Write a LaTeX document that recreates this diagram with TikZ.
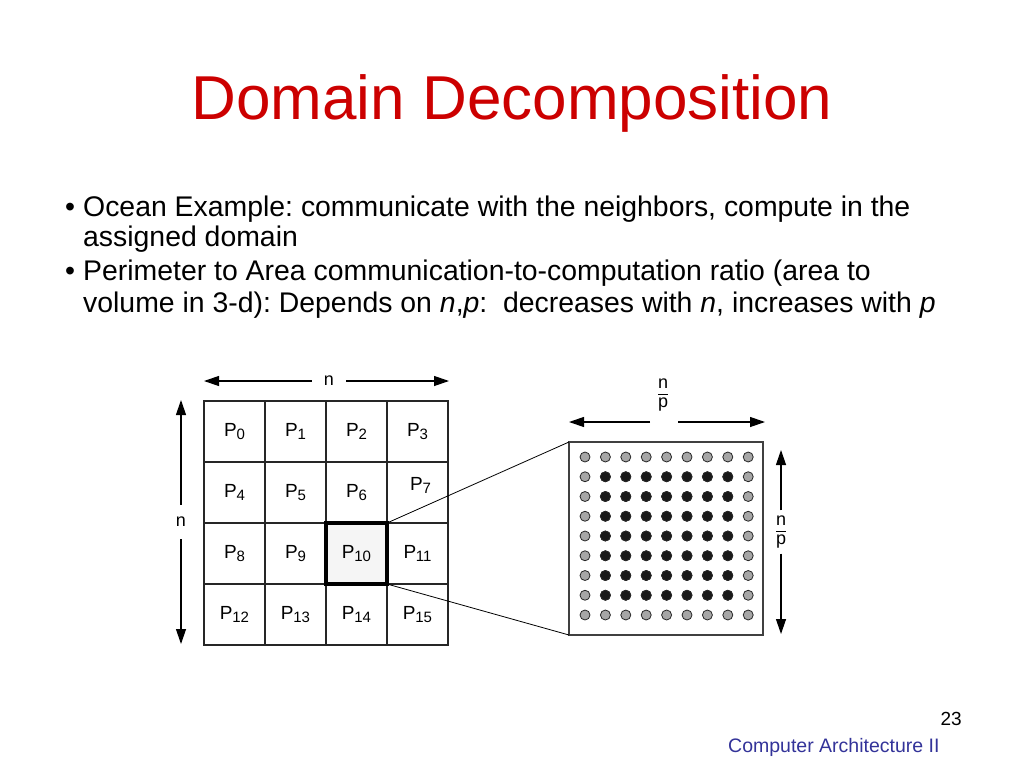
\documentclass[tikz,border=0pt]{standalone}
\usepackage{fontspec}
\setmainfont{Liberation Sans}
\usetikzlibrary{calc}
\usetikzlibrary{arrows.meta}
\usetikzlibrary{positioning}

\definecolor{titlered}{RGB}{204,0,0}
\definecolor{footblue}{RGB}{51,51,153}
\newcommand{\psub}[1]{P\kern-0.3pt\raisebox{-2.5pt}{\fontsize{15}{15}\selectfont#1}}
\newcommand{\npfrac}{\vbox{\hbox to 10pt{\hss n\hss}\kern5pt\hrule height 0.8pt\kern3pt\hbox to 10pt{\hss p\hss}}}
\frenchspacing

\begin{document}
\begin{tikzpicture}[x=1pt,y=-1pt,
  cell/.style={draw=black!85,line width=1.3pt,minimum size=61pt,inner sep=0,outer sep=0},
  plabel/.style={inner sep=0,font=\fontsize{19}{19}\selectfont},
  dimarrow/.style={black,line width=1.2pt,-{Triangle[length=15pt,width=10pt]}},
  dimlabel/.style={font=\fontsize{18}{18}\selectfont,inner sep=0,minimum size=34pt,align=center},
  dot/.style={draw=black!85,line width=0.8pt},
  bodytext/.style={anchor=base west,inner sep=0,font=\fontsize{28.4}{28.4}\selectfont}]
\useasboundingbox[fill=white] (0,0) rectangle (1024,768);

% title
\node[anchor=base,inner sep=0,text=titlered,font=\fontsize{62}{62}\selectfont] (title) at (512,119) {Domain Decomposition};

% bullets
\node[bodytext] (dotA) at (65,216) {\textbullet};
\node[bodytext] (ocean) at (83,216) {Ocean Example: communicate with the neighbors, compute in the};
\node[bodytext] (assigned) at (83,246) {assigned domain};
\node[bodytext] (dotB) at (65,280) {\textbullet};
\node[bodytext] (perim) at (83,280) {Perimeter to Area communication-to-computation ratio (area to};
\node[bodytext] (volume) at (83,312) {volume in 3-d): Depends on \textit{n},\textit{p}:\ \ decreases with \textit{n}, increases with \textit{p}};

% processor grid
\foreach \k [evaluate=\k as \c using {int(mod(\k,4))}, evaluate=\k as \r using {int((\k-mod(\k,4))/4)}] in {0,...,15} {
 \ifnum\k=10 \def\cellfill{black!4}\else\def\cellfill{white}\fi
 \node[cell,fill=\cellfill] (p\k) at ({234.5+61*\c},{431.5+61*\r}) {};
}
\draw[black,line width=4pt] (p10.north west) rectangle (p10.south east);
\foreach \k [evaluate=\k as \dy using {(\k==7)*7}, evaluate=\k as \dx using {(\k==7)*3}] in {0,...,15} {
 \node[plabel,xshift=\dx pt,yshift=\dy pt] (lab\k) at (p\k) {\psub{\k}};
}

% n arrows
\node[dimlabel] (nTop) at (329,381) {n};
\coordinate (nTopL) at (204,381);
\coordinate (nTopR) at (449,381);
\draw[dimarrow] (nTop) -- (nTopL);
\draw[dimarrow] (nTop) -- (nTopR);
\node[dimlabel] (nLeft) at (181,522) {n};
\coordinate (nLeftT) at (181,400);
\coordinate (nLeftB) at (181,644);
\draw[dimarrow] (nLeft) -- (nLeftT);
\draw[dimarrow] (nLeft) -- (nLeftB);

% zoomed domain
\node[draw=black!75,line width=1.3pt,minimum width=194pt,minimum height=193pt,inner sep=0,outer sep=0] (zoom) at (666,538.5) {};
\draw[black,line width=0.8pt] (p10.north east) -- (zoom.north west);
\draw[black,line width=0.8pt] (p10.south east) -- (zoom.south west);
\foreach \i in {0,...,8}
 \foreach \j in {0,...,8}
  \filldraw[dot,fill=black!35] ({585+20.4*\i},{457+19.75*\j}) circle (5);
\foreach \i in {1,...,7}
 \foreach \j in {1,...,7}
  \filldraw[dot,fill=black!90] ({585+20.4*\i},{457+19.75*\j}) circle (5);

% n/p arrows
\node[dimlabel,minimum size=0pt] (npTop) at (663,395) {\npfrac};
\coordinate (npTopGL) at (650,422);
\coordinate (npTopGR) at (678,422);
\coordinate (npTopL) at (569,422);
\coordinate (npTopR) at (765,422);
\draw[dimarrow] (npTopGL) -- (npTopL);
\draw[dimarrow] (npTopGR) -- (npTopR);
\node[dimlabel,minimum size=43pt] (npRight) at (781,532) {\npfrac};
\coordinate (npRightT) at (781,450);
\coordinate (npRightB) at (781,634);
\draw[dimarrow] (npRight) -- (npRightT);
\draw[dimarrow] (npRight) -- (npRightB);

% footer
\node[anchor=base east,inner sep=0,font=\fontsize{19}{19}\selectfont] (page) at (962,725) {23};
\node[anchor=base west,inner sep=0,text=footblue,font=\fontsize{19.5}{19.5}\selectfont] (course) at (728,752) {Computer Architecture II};
\end{tikzpicture}
\end{document}
